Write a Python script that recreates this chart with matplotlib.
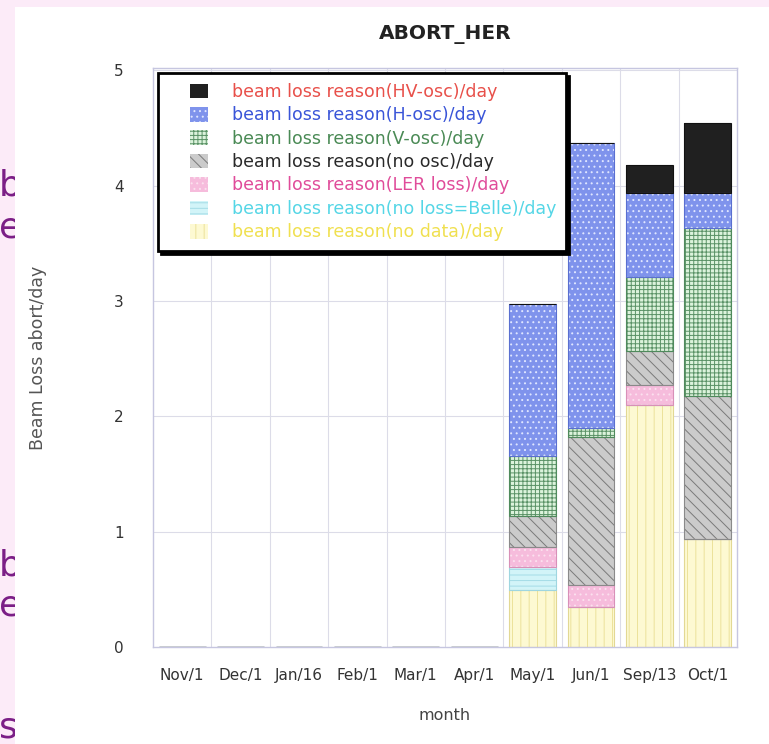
import matplotlib
matplotlib.use("Agg")
import matplotlib.pyplot as plt
import numpy as np
from matplotlib.patches import Rectangle
from matplotlib.legend_handler import HandlerPatch

# ---- data (abort counts per day, stacked by beam-loss reason) ----
months = ["Nov/1", "Dec/1", "Jan/16", "Feb/1", "Mar/1", "Apr/1",
          "May/1", "Jun/1", "Sep/13", "Oct/1"]
no_data       = [0, 0, 0, 0, 0, 0, 0.49, 0.35, 2.10, 0.94]
no_loss_belle = [0, 0, 0, 0, 0, 0, 0.20, 0.00, 0.00, 0.00]
ler_loss      = [0, 0, 0, 0, 0, 0, 0.18, 0.19, 0.17, 0.00]
no_osc        = [0, 0, 0, 0, 0, 0, 0.27, 1.28, 0.30, 1.24]
v_osc         = [0, 0, 0, 0, 0, 0, 0.52, 0.08, 0.64, 1.45]
h_osc         = [0, 0, 0, 0, 0, 0, 1.31, 2.47, 0.73, 0.31]
hv_osc        = [0, 0, 0, 0, 0, 0, 0.00, 0.00, 0.24, 0.60]

labels = {
    "hv": "beam loss reason(HV-osc)/day",
    "h": "beam loss reason(H-osc)/day",
    "v": "beam loss reason(V-osc)/day",
    "no": "beam loss reason(no osc)/day",
    "ler": "beam loss reason(LER loss)/day",
    "belle": "beam loss reason(no loss=Belle)/day",
    "nodata": "beam loss reason(no data)/day",
}

# stacking order, bottom to top: (key, values, face, hatch, hatch colour, edge, text colour)
layers = [
    ("nodata", no_data,       "#fdf9d2", "||",     "#ece29a", "#e2d894", "#f0e050"),
    ("belle",  no_loss_belle, "#d2f4f8", "---",    "#a4dce6", "#9fd6e0", "#55d6e6"),
    ("ler",    ler_loss,      "#f6bcdc", "...",    "#fbe0ee", "#d890b8", "#e04c9a"),
    ("no",     no_osc,        "#cbcbcb", "\\\\\\", "#7a7a7a", "#8a8a8a", "#2a2a2a"),
    ("v",      v_osc,         "#dcf3dc", "++++",   "#5a9266", "#4f8a5c", "#4a8a55"),
    ("h",      h_osc,         "#7f93ec", "...",    "#dfe6ff", "#5a6fd0", "#3a55d8"),
    ("hv",     hv_osc,        "#202020", None,     "#202020", "#111111", "#e8504a"),
]

plt.rcParams["font.family"] = ["DejaVu Sans"]
plt.rcParams["hatch.linewidth"] = 0.7

W, H = 769, 744
fig = plt.figure(figsize=(W / 100, H / 100), dpi=100, facecolor="#fcebf8")

# white panel carrying the chart, with slide text peeking out on the left
fig.add_artist(Rectangle((15 / W, 0), 1 - 15 / W, 1 - 7 / H,
                         transform=fig.transFigure, facecolor="white",
                         edgecolor="none", zorder=-1))
for ch, yb in [("b", 195), ("e", 237), ("b", 576), ("e", 616), ("s", 738)]:
    fig.text(-1 / W, 1 - yb / H, ch, fontsize=26, color="#7b1e86",
             va="baseline", ha="left", zorder=-2)

ax = fig.add_axes([153 / W, 1 - 647 / H, 584 / W, 579 / H])
ax.set_facecolor("white")

x = np.arange(len(months))
width = 0.8
bottom = np.zeros(len(months))
handles = {}
for key, vals, face, hatch, hcol, edge, tcol in layers:
    vals = np.asarray(vals, dtype=float)
    b = ax.bar(x, vals, width, bottom=bottom, facecolor=face, edgecolor=hcol,
               hatch=hatch, linewidth=0, zorder=2)
    ax.bar(x, vals, width, bottom=bottom, fill=False, edgecolor=edge,
           linewidth=0.8, zorder=3)
    handles[key] = b.patches[0]
    bottom += vals

ax.set_xlim(-0.5, 9.5)
ax.set_ylim(0, 5.02)
ax.set_xticks(x)
ax.set_xticklabels(months)
ax.set_yticks(range(6))
ax.tick_params(length=0, labelsize=11, labelcolor="#333333")
ax.tick_params(axis="y", pad=21)
ax.tick_params(axis="x", pad=15)

# grid: horizontal at integers, vertical between months
for yv in range(1, 6):
    ax.axhline(yv, color="#dcdce8", linewidth=0.8, zorder=1)
for xv in np.arange(0.5, 9.5, 1.0):
    ax.axvline(xv, color="#dcdce8", linewidth=0.8, zorder=1)
for s in ax.spines.values():
    s.set_color("#c6c6e0")
    s.set_linewidth(1.0)

ax.set_title("ABORT_HER", fontsize=14.5, fontweight="bold", color="#222222", pad=21)
ax.set_xlabel("month", fontsize=11.5, color="#444444", labelpad=18)
ax.set_ylabel("Beam Loss abort/day", fontsize=12.5, color="#555555", labelpad=48)


def square_patch(legend, orig_handle, xdescent, ydescent, width, height, fontsize):
    side_w = 13.0
    return Rectangle((width - side_w - xdescent, -ydescent), side_w, height)


order = ["hv", "h", "v", "no", "ler", "belle", "nodata"]
leg = ax.legend([handles[k] for k in order], [labels[k] for k in order],
                loc="upper left", bbox_to_anchor=(0.009, 0.991),
                borderaxespad=0, fontsize=12.5, frameon=True, fancybox=False,
                handlelength=2.3, handleheight=0.92, handletextpad=1.38,
                labelspacing=0.31, borderpad=0.56,
                handler_map={Rectangle: HandlerPatch(patch_func=square_patch)},
                shadow={"ox": 2.2, "oy": -2.2, "facecolor": "black",
                        "edgecolor": "black", "alpha": 1})
leg.get_frame().set_edgecolor("black")
leg.get_frame().set_linewidth(2.0)
leg.set_zorder(5)
text_colors = {l[0]: l[6] for l in layers}
for txt, k in zip(leg.get_texts(), order):
    txt.set_color(text_colors[k])

fig.savefig("out.png", dpi=100, facecolor=fig.get_facecolor())
